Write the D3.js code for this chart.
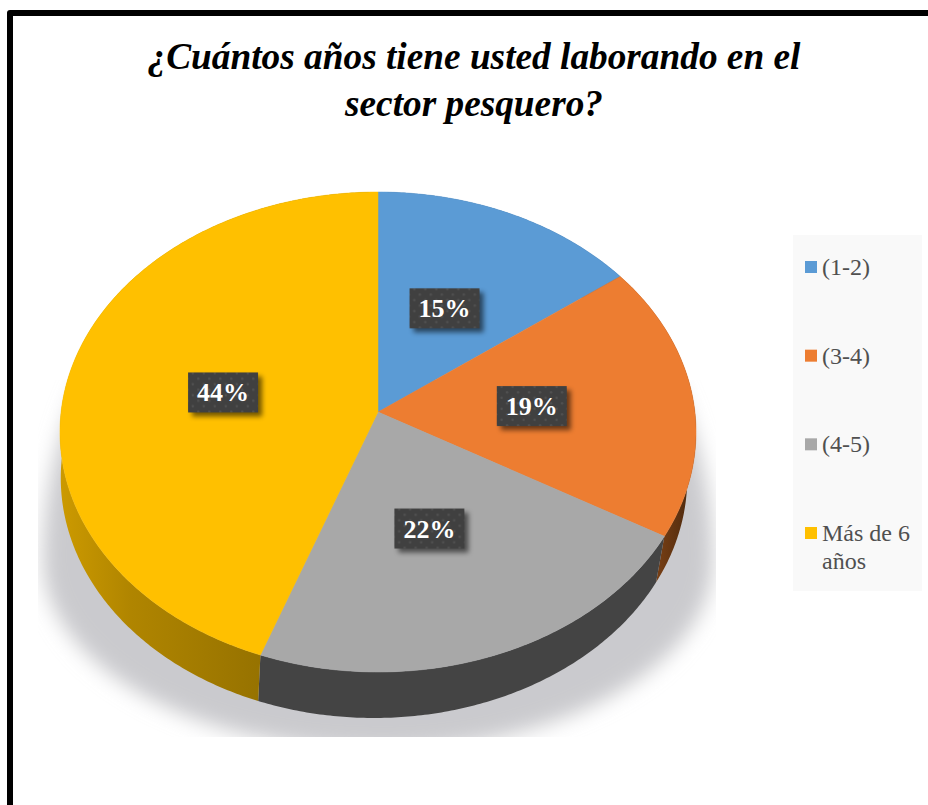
<!DOCTYPE html>
<html>
<head>
<meta charset="utf-8">
<script src="https://cdn.jsdelivr.net/npm/d3@7/dist/d3.min.js"></script>
<style>
html,body{margin:0;padding:0;background:#fff;overflow:hidden}
svg{display:block}
text{font-family:"Liberation Serif","Times New Roman",serif}
</style>
</head>
<body>
<svg id="chart" width="928" height="805"></svg>
<script>
const titleLines = ["¿Cuántos años tiene usted laborando en el", "sector pesquero?"];
const categories = ["(1-2)", "(3-4)", "(4-5)", "Más de 6 años"];
const values = [4, 5, 6, 12];
const faceColors = ["#5b9bd5", "#ed7d31", "#a8a8a8", "#ffc000"];
const wallFills = ["#37608a", "url(#wallOrange)", "#444444", "url(#wallGold)"];
const legendLines = [["(1-2)"], ["(3-4)"], ["(4-5)"], ["Más de 6", "años"]];

const svg = d3.select("#chart");
const defs = svg.append("defs");

const grad = (id, x1, x2, stops) => {
  const g = defs.append("linearGradient").attr("id", id).attr("gradientUnits", "userSpaceOnUse")
    .attr("x1", x1).attr("x2", x2).attr("y1", 0).attr("y2", 0);
  stops.forEach(([o, c]) => g.append("stop").attr("offset", o).attr("stop-color", c));
};
grad("wallGold", 60, 262, [[0, "#cc9a00"], [0.35, "#b08500"], [1, "#967200"]]);
grad("wallOrange", 655, 690, [[0, "#7a4015"], [1, "#4e2a0e"]]);

defs.append("filter").attr("id", "shadowBlur").attr("x", "-10%").attr("y", "-10%").attr("width", "120%").attr("height", "120%")
  .append("feGaussianBlur").attr("stdDeviation", 10);
const ls = defs.append("filter").attr("id", "labelShadow").attr("x", "-30%").attr("y", "-30%").attr("width", "160%").attr("height", "160%");
ls.append("feGaussianBlur").attr("stdDeviation", 2.5);
defs.append("clipPath").attr("id", "shadowClip").append("rect")
  .attr("x", 38).attr("y", 380).attr("width", 678).attr("height", 357);
const pat = defs.append("pattern").attr("id", "dots").attr("patternUnits", "userSpaceOnUse")
  .attr("width", 11).attr("height", 11);
pat.append("rect").attr("width", 11).attr("height", 11).attr("fill", "#404040");
[[2.75, 2.75], [8.25, 8.25]].forEach(([x, y]) =>
  pat.append("circle").attr("cx", x).attr("cy", y).attr("r", 1.2).attr("fill", "#515151"));

// Frame: top and left rules only, running off the picture
svg.append("path").attr("d", "M10,805V13H928").attr("fill", "none")
  .attr("stroke", "#000").attr("stroke-width", 6).attr("stroke-linejoin", "round");

// Title
svg.append("g").selectAll("text").data(titleLines).join("text")
  .attr("x", 474).attr("y", (d, i) => 69 + i * 47)
  .attr("text-anchor", "middle").attr("font-size", 37.3)
  .attr("font-weight", "bold").attr("font-style", "italic").attr("fill", "#000")
  .text(d => d);

// Perspective projection of the pie disc
const cx = 378, cy = 412, persp = -1 / 12, radX = 316.9, radY = 238.33, depth = 46, baseScale = 0.985, baseShift = -4;
const project = (angle, r = 1, ring = 0) => {
  const X = r * Math.sin(angle), Y = -r * Math.cos(angle);
  const w = 1 + persp * Y;
  const sx = ring ? baseScale : 1;
  return [cx + (ring ? baseShift : 0) + sx * radX * X / w, cy + radY * Y / w + (ring ? depth : 0)];
};
const arcPoints = (a0, a1, ring) => {
  const n = Math.max(2, Math.ceil((a1 - a0) / 0.01));
  return d3.range(n + 1).map(i => project(a0 + (a1 - a0) * i / n, 1, ring));
};
const line = d3.line();
const slices = d3.pie().sort(null).value(d => d)(values);
const fmt = d3.format(".0%");
const total = d3.sum(values);

// Drop shadow behind the disc: tall upper half, shallow lower half
const shadowCx = cx, shadowCy = 560, shadowRx = 335, shadowUp = 380, shadowDown = 190;
const shadowPath = d3.path();
shadowPath.moveTo(shadowCx - shadowRx, shadowCy);
shadowPath.bezierCurveTo(shadowCx - shadowRx, shadowCy - 0.55 * shadowUp, shadowCx - 0.55 * shadowRx, shadowCy - shadowUp, shadowCx, shadowCy - shadowUp);
shadowPath.bezierCurveTo(shadowCx + 0.55 * shadowRx, shadowCy - shadowUp, shadowCx + shadowRx, shadowCy - 0.55 * shadowUp, shadowCx + shadowRx, shadowCy);
shadowPath.bezierCurveTo(shadowCx + shadowRx, shadowCy + 0.55 * shadowDown, shadowCx + 0.55 * shadowRx, shadowCy + shadowDown, shadowCx, shadowCy + shadowDown);
shadowPath.bezierCurveTo(shadowCx - 0.55 * shadowRx, shadowCy + shadowDown, shadowCx - shadowRx, shadowCy + 0.55 * shadowDown, shadowCx - shadowRx, shadowCy);
svg.append("g").attr("clip-path", "url(#shadowClip)")
  .append("path").attr("d", shadowPath.toString())
  .attr("fill", "#cacace").attr("filter", "url(#shadowBlur)");

// Walls
svg.append("g").selectAll("path").data(slices).join("path")
  .attr("d", d => line([...arcPoints(d.startAngle, d.endAngle, 0), ...arcPoints(d.startAngle, d.endAngle, 1).reverse()]) + "Z")
  .attr("fill", (d, i) => wallFills[i]);

// Top face
svg.append("g").selectAll("path").data(slices).join("path")
  .attr("d", d => line([project(0, 0), ...arcPoints(d.startAngle, d.endAngle, 0)]) + "Z")
  .attr("fill", (d, i) => faceColors[i])
  .attr("stroke", (d, i) => faceColors[i]).attr("stroke-width", 0.5);

// Data labels
const labelNudge = [[-2, -1], [-4, 1], [-5, 0], [0, 1]];
const lw = 70, lh = 40;
const labels = svg.append("g").selectAll("g").data(slices).join("g")
  .attr("transform", (d, i) => {
    const p = project((d.startAngle + d.endAngle) / 2, 0.5);
    return `translate(${p[0] + labelNudge[i][0]},${p[1] + labelNudge[i][1]})`;
  });
labels.append("rect").attr("x", -lw / 2 + 4).attr("y", -lh / 2 + 4).attr("width", lw).attr("height", lh)
  .attr("fill", "#000").attr("opacity", 0.55).attr("filter", "url(#labelShadow)");
labels.append("rect").attr("x", -lw / 2).attr("y", -lh / 2).attr("width", lw).attr("height", lh)
  .attr("fill", "url(#dots)");
labels.append("text").attr("text-anchor", "middle").attr("y", 9).attr("font-size", 26)
  .attr("font-weight", "bold").attr("fill", "#fff")
  .text(d => fmt(d.value / total));

// Legend
svg.append("rect").attr("x", 793).attr("y", 235).attr("width", 129).attr("height", 356).attr("fill", "#f9f9f9");
const legendY = d3.scalePoint().domain(categories).range([261, 527]);
const legend = svg.append("g").selectAll("g").data(categories).join("g")
  .attr("transform", d => `translate(805,${legendY(d)})`);
legend.append("rect").attr("width", 12).attr("height", 12).attr("fill", (d, i) => faceColors[i]);
legend.append("text").attr("x", 17).attr("y", 14).attr("font-size", 24).attr("fill", "#505050")
  .selectAll("tspan").data((d, i) => legendLines[i]).join("tspan")
  .attr("x", 17).attr("dy", (d, i) => i ? 28 : 0).text(d => d);
</script>
</body>
</html>
